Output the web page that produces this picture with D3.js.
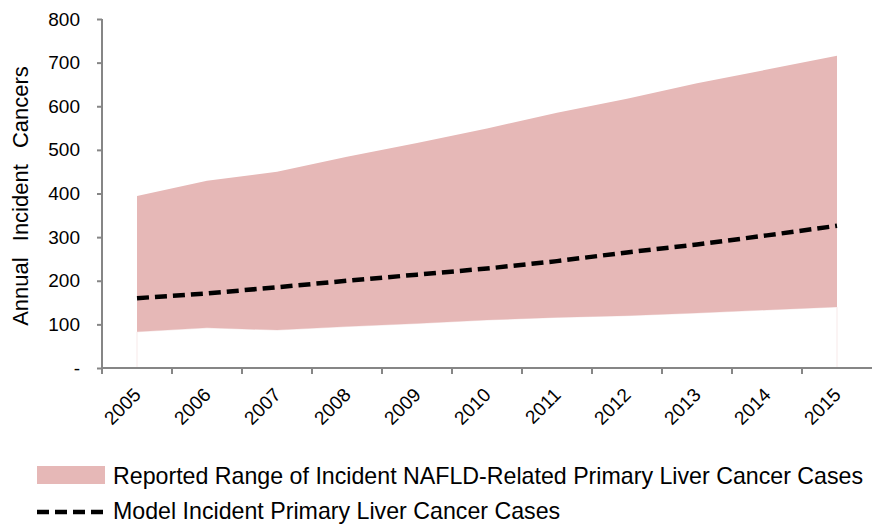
<!DOCTYPE html>
<html><head><meta charset="utf-8">
<script src="https://cdn.jsdelivr.net/npm/d3@7"></script>
<style>body{margin:0;background:#fff}svg{display:block}text{font-family:"Liberation Sans",Arial,sans-serif}</style>
</head><body><svg id="c" width="872" height="524"></svg>
<script>
const years = ["2005","2006","2007","2008","2009","2010","2011","2012","2013","2014","2015"];
const rangeLow = [83, 92, 87, 95, 102, 110, 116, 120, 126, 133, 140];
const rangeHigh = [394, 429, 450, 484, 516, 549, 585, 617, 653, 684, 716];
const model = [160, 171, 185, 200, 214, 228, 245, 265, 283, 304, 326];
const yTicks = [0,100,200,300,400,500,600,700,800];
const yTickLabels = ["-","100","200","300","400","500","600","700","800"];
const legendLabels = ["Reported Range of Incident NAFLD-Related Primary Liver Cancer Cases","Model Incident Primary Liver Cancer Cases"];

const svg = d3.select("#c");
const x = d3.scaleBand().domain(years).range([102, 872]).padding(0);
const y = d3.scaleLinear().domain([0,800]).range([368, 19]);
const cx = d => x(d) + x.bandwidth()/2;

const data = years.map((yr,i)=>({yr, lo:rangeLow[i], hi:rangeHigh[i], m:model[i]}));

// faint base edges
svg.append("path").datum(data)
  .attr("d", d3.area().x(d=>cx(d.yr)).y0(y(0)).y1(d=>y(d.lo)))
  .attr("fill","none").attr("stroke","#f7e9e9").attr("stroke-width",1);
svg.append("path").datum(data)
  .attr("d", d3.area().x(d=>cx(d.yr)).y0(d=>y(d.lo)).y1(d=>y(d.hi)))
  .attr("fill","#e6b8b7");

// axes
const yAxis = svg.append("g").attr("transform","translate(102,0)")
  .call(d3.axisLeft(y).tickValues(yTicks).tickSize(5).tickFormat((d,i)=>yTickLabels[i]));
yAxis.select(".domain").attr("stroke","#868686").attr("stroke-width",2).attr("d","M0,19V368");
yAxis.selectAll(".tick line").attr("stroke","#868686").attr("stroke-width",2);
yAxis.selectAll(".tick text").attr("x",-22).attr("font-size",19).attr("fill","#000").attr("font-family","Liberation Sans, Arial, sans-serif");

const xAxis = svg.append("g").attr("transform","translate(0,368)")
  .call(d3.axisBottom(x).tickSize(0).tickFormat(d=>d));
xAxis.select(".domain").attr("stroke","#868686").attr("stroke-width",2).attr("d","M102,0H872");
xAxis.selectAll(".tick text").attr("font-size",19).attr("fill","#000")
  .attr("font-family","Liberation Sans, Arial, sans-serif")
  .attr("text-anchor","end").attr("dy",0).attr("y",0)
  .attr("transform","translate(5,28) rotate(-45)");
// tick marks at band boundaries
svg.append("g").selectAll("line").data(years.slice(0)).join("line")
  .attr("x1",d=>x(d)).attr("x2",d=>x(d)).attr("y1",368).attr("y2",374)
  .attr("stroke","#868686").attr("stroke-width",2);

// model line
svg.append("path").datum(data)
  .attr("d", d3.line().x(d=>cx(d.yr)).y(d=>y(d.m)))
  .attr("fill","none").attr("stroke","#000").attr("stroke-width",4.5)
  .attr("stroke-dasharray","12,6");

// y title
svg.append("text").attr("transform","translate(28,196) rotate(-90)")
  .attr("text-anchor","middle").attr("font-size",22).attr("word-spacing",10)
  .text("Annual Incident Cancers");

// legend
const lg = svg.append("g");
lg.append("rect").attr("x",37).attr("y",466).attr("width",68).attr("height",18).attr("fill","#e6b8b7");
lg.append("text").attr("x",113).attr("y",484).attr("font-size",23.2).text(legendLabels[0]);
lg.append("line").attr("x1",37).attr("x2",107).attr("y1",512).attr("y2",512)
  .attr("stroke","#000").attr("stroke-width",4.5).attr("stroke-dasharray","12,6");
lg.append("text").attr("x",113).attr("y",519).attr("font-size",23.2).text(legendLabels[1]);
</script></body></html>
